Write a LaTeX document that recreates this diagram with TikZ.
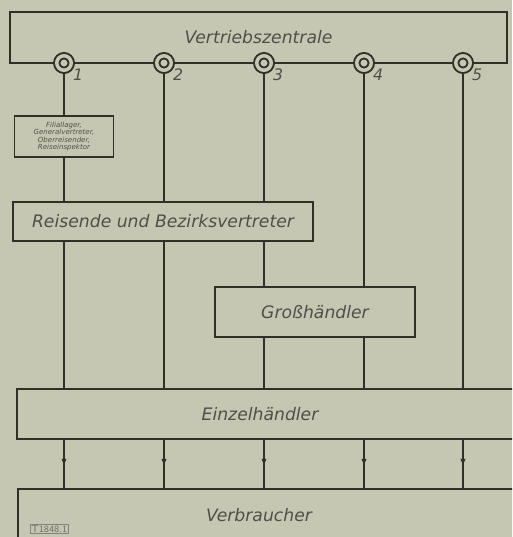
\documentclass[tikz,border=0pt]{standalone}
\usepackage{fontspec}
\setmainfont{DejaVu Sans}
\usetikzlibrary{positioning,decorations.markings,arrows.meta}
\definecolor{paper}{RGB}{198,199,179}
\definecolor{ink}{RGB}{48,48,40}

\begin{document}
\begin{tikzpicture}[x=0.02cm,y=-0.02cm,
  box/.style={draw=ink,line width=1.1pt,fill=paper,inner sep=0pt,text=ink!85,
    font=\itshape\fontsize{9.8}{11}\selectfont},
  lbl/.style={text=ink!85,inner sep=0pt,font=\itshape\fontsize{9.8}{11}\selectfont},
  small/.style={box,line width=0.9pt,align=center,
    font=\itshape\fontsize{4}{4.2}\selectfont},
  port/.style={circle,draw=ink,line width=1.1pt,double=paper,double distance=0.07cm,
    fill=paper,minimum size=0.29cm,inner sep=0pt,outer sep=0.075cm},
  num/.style={text=ink!85,inner sep=0pt,font=\itshape\fontsize{9}{10}\selectfont},
  wire/.style={draw=ink,line width=1.1pt},
  flow/.style={wire,postaction={decorate},decoration={markings,
    mark=at position 0.56 with {\arrow{Latex[length=4.5pt,width=3pt]}}}}
]
\fill[paper] (0,0) rectangle (512,537);
\clip (0,0) rectangle (512,537);

\node[box,minimum width=9.94cm,minimum height=1.02cm] (zentrale) at (258.5,37.5) {Vertriebszentrale};
\node[small,minimum width=1.98cm,minimum height=0.82cm] (filial) at (64,136.5)
  {Filiallager,\\Generalvertreter,\\Oberreisender,\\Reiseinspektor};
\node[box,minimum width=6.0cm,minimum height=0.78cm] (reisende) at (163,221.5) {Reisende und Bezirksvertreter};
\node[box,minimum width=4.0cm,minimum height=1.0cm] (gross) at (315,312) {Großhändler};
\node[box,minimum width=10.26cm,minimum height=1.0cm] (einzel) at (273.5,414) {};
\node[lbl] (einzeltext) at (260,414) {Einzelhändler};
\node[box,minimum width=10.24cm,minimum height=1.42cm] (verbr) at (274,524.5) {};
\node[lbl] (verbrtext) at (259,515) {Verbraucher};
\node[draw=ink!60,line width=0.4pt,inner sep=0.8pt,text=ink!70,
  font=\sffamily\fontsize{5.5}{6}\selectfont] (tag) at (49.5,529) {T1848.1};

\foreach \i/\x in {1/64,2/164,3/264,4/364,5/463}{
  \node[port] (c\i) at (\x,63) {};
  \node[num,below right=-1.5pt and 0.5pt of c\i] (n\i) {\i};
}

\draw[wire] (c1) -- (filial);
\draw[wire] (filial) -- (filial |- reisende.north);
\draw[wire] (c2) -- (c2 |- reisende.north);
\draw[wire] (c3) -- (c3 |- reisende.north);
\draw[wire] (c4) -- (c4 |- gross.north);
\draw[wire] (c5) -- (c5 |- einzel.north);
\draw[wire] (c1 |- reisende.south) -- (c1 |- einzel.north);
\draw[wire] (c2 |- reisende.south) -- (c2 |- einzel.north);
\draw[wire] (c3 |- reisende.south) -- (c3 |- gross.north);
\draw[wire] (c3 |- gross.south) -- (c3 |- einzel.north);
\draw[wire] (c4 |- gross.south) -- (c4 |- einzel.north);
\foreach \i in {1,...,5}
  \draw[flow] (c\i |- einzel.south) -- (c\i |- verbr.north);
\end{tikzpicture}
\end{document}
